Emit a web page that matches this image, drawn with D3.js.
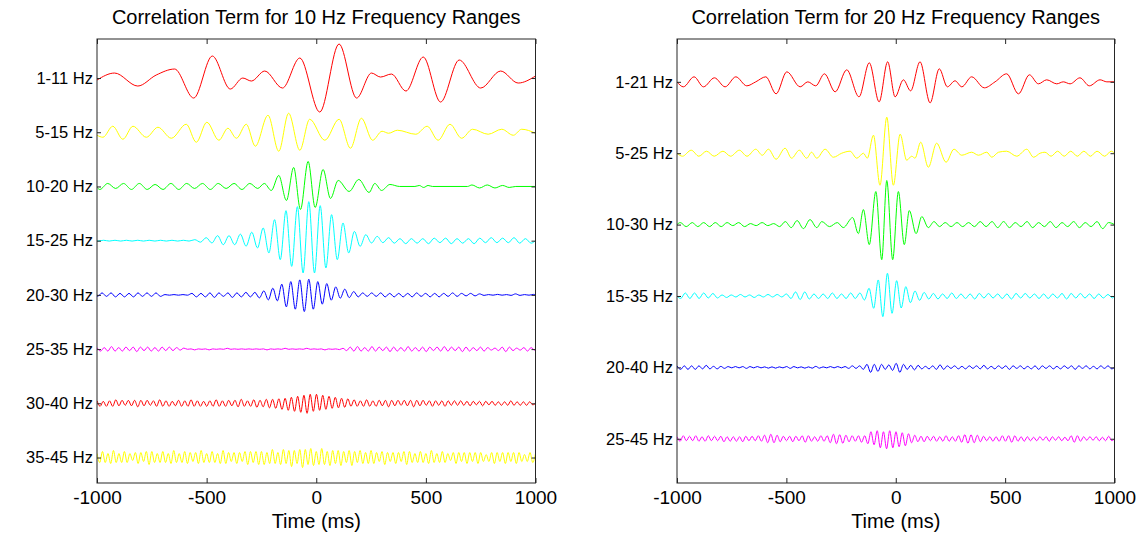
<!DOCTYPE html>
<html>
<head>
<meta charset="utf-8">
<script src="https://cdn.jsdelivr.net/npm/d3@7"></script>
<style>
  body { margin: 0; background: #fff; }
  text { font-family: "Liberation Sans", Arial, sans-serif; fill: #000; }
</style>
</head>
<body>
<div id="chart"></div>
<script>
var w = 1147;
var h = 535;

// x axis ticks (ms)
var timeTicks = [-1000, -500, 0, 500, 1000];

// band labels for each panel
var bands10 = ["1-11 Hz", "5-15 Hz", "10-20 Hz", "15-25 Hz", "20-30 Hz", "25-35 Hz", "30-40 Hz", "35-45 Hz"];
var bands20 = ["1-21 Hz", "5-25 Hz", "10-30 Hz", "15-35 Hz", "20-40 Hz", "25-45 Hz"];

var colors10 = ["#ff0000", "#ffff00", "#00ff00", "#00ffff", "#0000ff", "#ff00ff", "#ff0000", "#ffff00"];
var colors20 = ["#ff0000", "#ffff00", "#00ff00", "#00ffff", "#0000ff", "#ff00ff"];

// ---- 10 Hz panel: extrema, [time ms, amplitude] ----
var c1_11 = [[-1000,-2],[-920,5],[-814,-8],[-730,3],[-646,9],[-559,-20],[-474,22],[-392,-11],[-335,0],[-296,-3],
  [-235,7],[-154,-10],[-75,20],[16,-34],[104,34],[184,-20],[252,5],[293,1],[343,4],[409,-13],[488,21],[567,-24],
  [652,18],[750,-10],[841,7],[921,-5],[1000,2]];

var c5_15 = [[-1000,-3],[-973,-5],[-928,6],[-882,-7],[-836,6],[-775,-5],[-722,5],[-661,-6],[-593,8],[-547,-10],
  [-499,10],[-444,-8],[-403,4],[-364,-6],[-319,8],[-278,-14],[-220,17],[-171,-19],[-126,19],[-75,-18],[-30,13],
  [39,-8],[104,13],[156,-16],[206,14],[257,-8],[300,1],[330,-1],[370,2],[454,-2],[506,6],[556,-8],[610,8],
  [663,-6],[713,3],[784,-2],[846,3],[899,-3],[937,3],[1000,-1]];

var c10_20 = [[-1000,-1],[-987,-3],[-951,3],[-915,-2],[-879,3],[-843,-3],[-807,3],[-771,-3],[-735,2],[-699,-3],
  [-663,3],[-627,-3],[-591,3],[-555,-2],[-519,3],[-483,-3],[-447,3],[-411,-2],[-375,3],[-339,-3],[-303,3],
  [-267,-2],[-237,3],[-205,-4],[-171,11],[-136,-14],[-103,19],[-72,-23],[-37,25],[-5,-21],[31,17],[65,-12],
  [100,6],[150,-5],[194,7],[241,-6],[267,3],[298,-4],[336,2],[380,0],[450,0],[470,1],[490,-1],[510,1],[530,0],
  [690,0],[710,1.5],[745,-1.5],[780,1.5],[815,-1.5],[850,1],[880,-1],[910,0],[1000,0]];

// dense bands: successive extremum sizes, alternating in sign
var c15_25 = [.4,.4,.4,.4,.4,.4,.4,.4,.4,.4,.4,.4,.4,.4,.4,.4,.4,
  1,1.5,3,2.3,5,4,5,4,6.5,5.5,8.5,7.3,12.7,12.3,21,19,30,25.7,34,32.3,39,32.3,35,27.3,26,19,17.7,12.3,9.3,5.7,6,2.3,4.3,2,3,
  2.5,2,3,2,2.5,2,3,2.5,2,2.5,3,2,2.5,2,3,2.5,2,3,2,2.5,2,3,2.5,2,2.5];

var c20_30 = [1.5,2,1.5,2,2,1.5,2,1.5,2,2,1.5,2,1.5,2,1.5,
  .3,.3,.3,.3,.3,.3,
  1.5,2,1.5,2,2,2.5,2,1.5,2,2.5,2,2,2.5,2,
  2.5,3,4,5,6.7,6,10.7,12,13.3,14.3,15,16.7,15.7,14.3,13.3,9.3,11.3,5.3,8,3.3,5.7,2.7,3.3,
  2,2,1.5,2,1.5,2,2,1.5,2,1.5,2,1.5,2,2,1.5,1.5,2,1.5,2,1.5,1.5,2,1.5,1.5,1,1.5,1,1,
  .5,.3,.3,.5,.3,.3,.5,1,.5,.3,.3,.5];

var c25_35 = [1.5,2,1.5,2,2.5,2,1.5,2,2,1.5,2,2.5,2,1.5,2,2,1.5,2,2,1.5,2,1.5,1.5,1,1,
  .2,.2,.8,.2,.2,.2,.8,.2,.2,.2,.2,.8,.2,.2,.2,.2,.2,.2,.2,.2,.2,.2,.8,.2,.2,.2,.2,.8,.2,.2,.2,.2,.2,.8,.2,.2,.2,.2,.8,.2,.2,.2,.5,.8,
  1.5,2,2,2.5,2,1.5,2,2.5,2,2,1.5,2,2.5,2,2,1.5,2,2.5,2,1.5,2,2,2.5,2,1.5,2,2,2.5,2,2,1.5,2,2.5,2,2,1.5,1.5,2,2,1.5,1,1,1.5,2,2.5,2,1.5,1,1,1.5,2,1.5,1];

var c30_40 = [2.5,3,2,3,2.5,3,3.5,2.5,3,2,3,2.5,3,3.5,3,2.5,3,2,2.5,3,3.5,3,2.5,3,2,2.5,3,3,2.5,3,3.5,3,2.5,3,2,3,2.5,3,3.5,3,2.5,3,3,2.5,3,3.5,4,3,2.5,3,3.5,4,3,3.5,4,4.5,
  4,5,4.5,6,5,7,6,8,7,9,8,10,9,8,9,7,8,6,7,5,6,4.5,5,4,4.5,
  3,3.5,3,2.5,3,3.5,3,2.5,3,3,2.5,3,3.5,3,2.5,3,2,3,2.5,3,3.5,3,2.5,3,2,2.5,3,2.5,2,2.5,3,2.5,2,2.5,2,2.5,2,2,2.5,2,1.5,2,2.5,2,1.5,2,2,1.5,2,1.5,2,2.5,2,1.5,2,1.5,2,1.5,1.5];

var c35_45 = [4,5,6,5,4,6,7,5,4,5,6,5,4,3,5,6,5,4,6,7,6,5,4,5,6,5,4,6,7,5,4,5,6,6,5,4,5,6,7,5,4,5,6,5,4,6,7,6,5,4,5,6,5,4,6,7,6,5,6,7,
  6,7,5,6,8,6,5,7,8,6,7,9,7,6,8,10,8,7,9,8,6,7,9,7,6,8,7,6,7,8,6,5,7,8,6,5,7,6,5,6,7,
  6,5,4,6,7,5,4,5,6,5,4,6,7,6,5,4,5,6,5,4,6,7,5,4,5,6,5,4,3,5,6,5,4,5,6,5,4,5,6,5,4,3,4,5,6,5,4,5,6,5,4,5,6,5,4,3,4,5,5,4];

// ---- 20 Hz panel ----
var c1_21 = [[-1000,0],[-971,-5],[-922,5],[-879,-5],[-829,4],[-780,-5],[-731,5],[-681,-4],[-640,0],[-594,5],
  [-547,-12],[-498,10],[-437,-5],[-402,0],[-366,-4],[-326,8],[-277,-10],[-224,12],[-168,-15],[-121,19],[-76,-20],
  [-37,20],[-3,-15],[35,2],[68,-9],[111,20],[157,-21],[199,13],[236,-5],[271,1],[302,-5],[347,5],[405,-6],[454,0],
  [507,8],[561,-12],[611,7],[652,-2],[690,2],[736,-2],[766,0],[797,-2],[842,4],[885,-4],[934,2],[965,0],[1000,0]];

var c5_25 = [[-1000,0],[-975,-3],[-935,3],[-900,-3],[-865,2],[-830,-3],[-790,2],[-755,-3],[-715,3],[-680,-3],
  [-640,4],[-610,-2],[-582,4],[-547,-6],[-506,5],[-476,-5],[-441,3],[-407,-5],[-385,1],[-361,-5],[-323,4],[-285,-4],
  [-247,0],[-209,2],[-178,-5],[-148,0],[-130,-5],[-102,18],[-72,-32],[-41,36],[-11,-32],[20,19],[50,-7],[73,-3],
  [88,-5],[114,11],[149,-14],[187,10],[230,-9],[266,4],[302,-2],[347,1],[378,-2],[416,1],[439,-4],[470,1],[507,2],
  [553,-3],[599,4],[630,-4],[660,0],[682,1],[710,-3],[740,2],[770,-3],[800,2],[830,-3],[860,2],[890,-3],[920,2],
  [955,-3],[985,2],[1000,0]];

var c10_30 = [[-1000,0],[-985,2],[-958,-2],[-930,2],[-905,-2],[-878,2],[-851,-2],[-825,2],[-798,-2],[-771,2],
  [-745,-1],[-718,2],[-691,-2],[-664,1],[-638,-1],[-611,2],[-585,-1],[-558,1],[-531,-2],[-505,3],[-478,-3],[-451,4],
  [-422,-4],[-392,5],[-361,-3],[-338,3],[-303,-2],[-267,2],[-240,-3],[-197,7],[-171,-9],[-148,15],[-121,-20],
  [-91,33],[-64,-35],[-41,44],[-14,-35],[12,33],[39,-20],[62,14],[93,-9],[119,8],[149,-3],[175,3],[200,-2],[226,2],
  [253,-2],[280,2],[306,-2],[333,2],[360,-2],[386,3],[413,-2],[440,3],[466,-3],[493,3],[520,-3],[546,2],[573,-2],
  [600,3],[626,-3],[653,2],[680,-2],[706,3],[733,-3],[760,2],[786,-2],[813,3],[840,-3],[866,2],[893,-2],[920,3],
  [946,-4],[973,2],[1000,0]];

var c15_35 = [2.5,3,2.5,3,2.5,3,2,2.5,2,
  1,1.5,1,1,1.5,1,1,1.5,1,1,1.5,1,1.5,1,2,2.5,
  4,3.5,4,3,
  2,2.5,2,2.5,3,2.5,2,2.5,
  3,2.5,3,
  4,7.7,12.3,16,20.7,22.7,17.3,15.3,12,9.3,6.7,5,4.3,3.5,
  3,2.5,3,2,2.5,3,2.5,2,2.5,2,3,2.5,2,2.5,2,2,2.5,2,3,2.5,2,2.5,2,2,2.5,2,2.5,2,2,2.5,3,2.5,2,2.5,2,2,2.5,2,2,1.5,2];

var c20_40 = [1.5,2,1.5,2,1.5,2,1.5,1.5,2,1.5,1,1.5,1,1,
  .8,.5,.8,.5,.8,1,.8,.5,.8,.5,.5,.8,.5,.8,.5,.5,.8,1,.8,.5,.5,.8,.5,.8,1,.8,.5,.5,.8,.5,.8,.5,.8,1,1.5,1,1.5,
  2,3,5,3,4,3,2,2.5,3,4,5,3,2,2,2.5,2,
  1.5,1,1.5,1.5,2,2.5,2,1.5,1,1.5,1.5,1,1.5,1.5,1,1.5,1.5,2,1.5,1,1.5,1.5,1,1.5,2,1.5,1,1.5,1.5,1,1.5,1.5,2,1.5,1,1.5,1.5,1,1.5,1.5,1,1.5,2,1.5,1,1.5,1.5,1,1.5,1.5,1,1.5,1.5];

var c25_45 = [2,2.5,3,2,2.5,2,3,2.5,2,2.5,3,2,2.5,2,2.5,3,2,2.5,2,2.5,2,3,2.5,2,2.5,2,3,2.5,
  3.5,4,4.5,4,3.5,3,
  2.5,2,2.5,3,2.5,2,3,3.5,3,2.5,2,2.5,3,2.5,3,
  4,4.5,5,4,4.5,3.5,3,
  3,2.5,3,3.5,3,
  5,7,6,8,9,7,10,8,9,7,8,6,7,5,
  4,3.5,3,2.5,3,2.5,2,2.5,
  2.5,2,2.5,3,2.5,2,2.5,3,3.5,4,4.5,4,
  4,3.5,3,2.5,2,
  2,2.5,2,2.5,3,2.5,3,3.5,3,2.5,2,2.5,2,2,1.5,2,2,1.5,2,2.5,2,1.5,2,2,1.5,2,3,3.5,3,2.5,2,1.5,2,1.5,2,2,1.5,2,2.5,2];

var traces10 = [
  { pts: c1_11 }, { pts: c5_15 }, { pts: c10_20 },
  { t0: -996, dt: 26, first: -1, amps: c15_25 },
  { t0: -997.5, dt: 20.5, first: -1, amps: c20_30 },
  { t0: -1000, dt: 16.5, first: 1, amps: c25_35 },
  { t0: -1000, dt: 14.3, first: 1, amps: c30_40 },
  { t0: -1000, dt: 12.5, first: 1, amps: c35_45 }
];

var traces20 = [
  { pts: c1_21 }, { pts: c5_25 }, { pts: c10_30 },
  { t0: -983, dt: 21, first: -1, amps: c15_35 },
  { t0: -1000, dt: 16.7, first: 1, amps: c20_40 },
  { t0: -1000, dt: 14.3, first: 1, amps: c25_45 }
];

// turn a trace description into [time, amplitude] points
function tracePoints(tr) {
  var pts;
  if (tr.pts) {
    pts = tr.pts.slice();
  } else {
    pts = tr.amps.map(function (a, i) {
      var s = (i % 2 === 0) ? tr.first : -tr.first;
      return [tr.t0 + i * tr.dt, s * a];
    });
  }
  pts = pts.filter(function (p) { return p[0] >= -1000 && p[0] <= 1000; });
  if (pts[0][0] > -1000) pts.unshift([-1000, 0]);
  if (pts[pts.length - 1][0] < 1000) pts.push([1000, 0]);
  return pts;
}

var svg = d3.select("#chart")
  .append("svg")
  .attr("width", w)
  .attr("height", h);

var panels = [
  { title: "Correlation Term for 10 Hz Frequency Ranges", bands: bands10, colors: colors10, traces: traces10,
    left: 97, right: 535.5, gap: 54.2, idx: [-0.72, 7.47] },
  { title: "Correlation Term for 20 Hz Frequency Ranges", bands: bands20, colors: colors20, traces: traces20,
    left: 677, right: 1114.5, gap: 71.3, idx: [-0.6, 5.62] }
];

var plotTop = 39, plotBottom = 483;

panels.forEach(function (p, pi) {
  var x = d3.scaleLinear().domain([-1000, 1000]).range([p.left, p.right]);
  var y = d3.scaleLinear().domain(p.idx).range([plotTop, plotBottom]);

  var g = svg.append("g");

  g.append("clipPath").attr("id", "clip" + pi)
    .append("rect")
    .attr("x", p.left).attr("y", plotTop)
    .attr("width", p.right - p.left).attr("height", plotBottom - plotTop);

  var plot = g.append("g").attr("clip-path", "url(#clip" + pi + ")");

  p.traces.forEach(function (tr, k) {
    var line = d3.line()
      .x(function (d) { return x(d[0]); })
      .y(function (d) { return y(k - d[1] / p.gap); })
      .curve(d3.curveMonotoneX);

    plot.append("path")
      .attr("d", line(tracePoints(tr)))
      .attr("fill", "none")
      .attr("stroke", p.colors[k])
      .attr("stroke-width", 1);
  });

  // box
  g.append("rect")
    .attr("x", p.left).attr("y", plotTop)
    .attr("width", p.right - p.left).attr("height", plotBottom - plotTop)
    .attr("fill", "none")
    .attr("stroke", "#262626")
    .attr("stroke-width", 1);

  var xb = g.append("g")
    .attr("transform", "translate(0," + plotBottom + ")")
    .call(d3.axisBottom(x).tickValues(timeTicks).tickSize(-5).tickPadding(8)
      .tickFormat(function (d) { return String(d); }));
  var xt = g.append("g")
    .attr("transform", "translate(0," + plotTop + ")")
    .call(d3.axisTop(x).tickValues(timeTicks).tickSize(-5).tickFormat(""));

  var yl = g.append("g")
    .attr("transform", "translate(" + p.left + ",0)")
    .call(d3.axisLeft(y).tickValues(d3.range(p.bands.length)).tickSize(-4).tickPadding(4)
      .tickFormat(function (d) { return p.bands[d]; }));
  var yr = g.append("g")
    .attr("transform", "translate(" + p.right + ",0)")
    .call(d3.axisRight(y).tickValues(d3.range(p.bands.length)).tickSize(-4).tickFormat(""));

  [xb, xt, yl, yr].forEach(function (a) {
    a.select(".domain").remove();
    a.selectAll(".tick line").attr("stroke", "#262626");
  });
  xb.selectAll("text").attr("font-size", 19).style("font-family", "Liberation Sans, Arial, sans-serif");
  yl.selectAll("text").attr("font-size", 16.5).style("font-family", "Liberation Sans, Arial, sans-serif");

  var cx = (p.left + p.right) / 2;
  g.append("text")
    .attr("x", cx).attr("y", 24)
    .attr("text-anchor", "middle")
    .attr("font-size", 20)
    .text(p.title);

  g.append("text")
    .attr("x", cx).attr("y", 528)
    .attr("text-anchor", "middle")
    .attr("font-size", 20)
    .text("Time (ms)");
});
</script>
</body>
</html>
